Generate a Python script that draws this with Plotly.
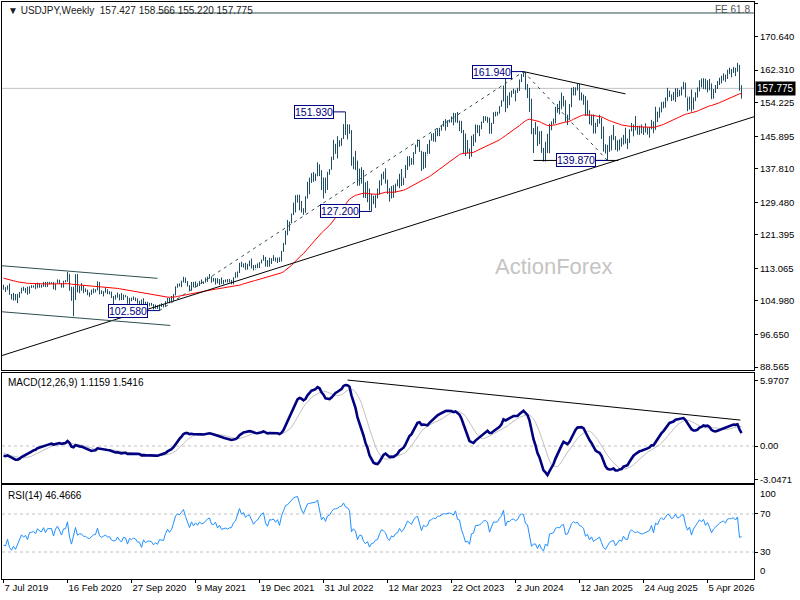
import pandas as pd
import plotly.graph_objects as go

# =========================
# DATA (weekly bars, week of 7 Jul 2019 .. week of 2 Aug 2026)
# =========================

WEEK_START = "2019-07-07"

# closes of the 52 weeks before the chart, only used to warm up the indicators
PRE_CLOSE = [
    112.4, 111.4, 111.0, 111.25, 110.9, 110.5, 111.2, 111.0, 111.0, 112.1,
    112.6, 113.7, 113.7, 112.2, 112.5, 111.9, 113.2, 113.8, 112.8, 112.95,
    113.5, 112.7, 113.4, 111.2, 110.3, 108.5, 108.5, 109.8, 109.5, 109.5,
    109.7, 110.5, 110.7, 111.9, 111.2, 111.5, 109.9, 110.9, 111.7, 112.0,
    111.9, 111.6, 111.1, 109.95, 110.1, 109.3, 108.3, 108.2, 108.6, 107.3,
    107.85, 108.45,
]

HIGH = [
    108.99, 108.4, 108.8, 109.3, 106.7, 106.98, 106.7, 106.7, 107.2, 108.25,
    108.5, 108.2, 108.5, 108.6, 108.9, 108.8, 109.3, 109.5, 109.3, 109.0,
    109.7, 109.7, 109.7, 109.7, 109.6, 109.7, 109.2, 110.3, 110.2, 109.4,
    110.0, 110.15, 112.2, 111.6, 108.5, 108.5, 111.6, 111.7, 108.7, 109.4,
    108.8, 108.1, 107.8, 107.1, 107.8, 108.1, 107.9, 109.85, 109.65, 107.6,
    107.4, 108.2, 107.9, 107.4, 107.3, 106.2, 106.5, 107.05, 106.6, 106.95,
    106.55, 106.4, 106.1, 105.7, 105.8, 106.1, 105.8, 105.6, 105.0, 105.35,
    105.65, 104.75, 104.75, 104.5, 104.5, 104.2, 104.05, 103.9, 104.1, 104.4,
    104.1, 104.9, 105.75, 105.7, 106.2, 106.7, 108.6, 109.25, 109.35, 110.0,
    110.97, 110.75, 109.9, 108.9, 109.7, 109.7, 109.8, 109.3, 109.9, 110.3,
    109.8, 110.8, 111.0, 111.65, 111.0, 110.7, 110.6, 110.6, 110.4, 110.8,
    110.2, 110.3, 110.4, 110.45, 110.2, 110.8, 112.1, 112.25, 114.45, 114.7,
    114.3, 114.45, 114.2, 115.0, 115.5, 113.9, 113.95, 114.3, 114.6, 115.2,
    116.35, 115.9, 115.1, 115.7, 115.6, 116.35, 115.8, 115.7, 115.8, 117.35,
    119.4, 122.45, 125.1, 124.7, 126.7, 129.4, 131.25, 131.35, 131.35, 129.8,
    128.0, 130.9, 134.55, 135.6, 136.7, 137.0, 136.6, 139.4, 138.9, 137.45,
    135.6, 135.6, 137.0, 137.7, 140.8, 144.99, 144.0, 145.9, 144.9, 145.45,
    148.85, 151.93, 148.85, 148.8, 147.4, 140.8, 142.25, 139.85, 137.85, 138.2,
    137.5, 134.45, 134.8, 132.9, 131.6, 131.1, 131.2, 132.9, 134.95, 136.5,
    137.1, 137.9, 135.1, 133.0, 133.5, 133.75, 134.1, 135.15, 136.55, 137.75,
    135.45, 138.75, 140.9, 140.95, 140.45, 141.9, 143.75, 145.05, 144.9, 142.25,
    142.0, 142.0, 143.9, 144.95, 146.55, 146.65, 147.35, 147.85, 147.95, 148.45,
    149.7, 150.15, 149.85, 150.0, 150.8, 151.7, 151.6, 151.9, 149.75, 149.7,
    147.45, 146.55, 144.95, 142.8, 146.0, 146.4, 148.8, 148.7, 148.6, 149.55,
    150.9, 150.85, 150.7, 150.5, 149.2, 151.85, 151.97, 151.95, 153.35, 154.8,
    158.45, 160.2, 155.95, 156.8, 157.2, 157.7, 157.25, 157.9, 159.95, 161.3,
    161.94, 161.8, 158.85, 157.85, 155.2, 147.9, 149.4, 148.3, 147.1, 147.2,
    143.0, 144.5, 146.5, 149.0, 149.55, 150.3, 153.2, 153.9, 154.7, 156.75,
    155.9, 154.75, 151.25, 153.9, 157.9, 158.1, 158.0, 158.9, 158.85, 156.75,
    156.25, 155.9, 154.8, 152.3, 151.2, 151.3, 149.2, 150.15, 151.2, 150.5,
    148.3, 143.9, 143.7, 145.9, 146.2, 148.65, 145.9, 144.9, 145.1, 145.5,
    146.2, 148.0, 145.3, 147.6, 149.2, 148.8, 150.9, 148.5, 148.5, 148.8,
    148.2, 149.1, 148.1, 148.2, 149.95, 149.5, 153.2, 152.0, 153.0, 154.4,
    154.5, 155.5, 157.9, 157.2, 156.2, 156.9, 157.8, 157.8, 157.4, 158.2,
    159.4, 159.2, 155.5, 155.7, 157.5, 155.5, 156.8, 158.0, 159.8, 160.2,
    160.3, 160.2, 159.8, 160.1, 159.0, 157.6, 158.6, 159.6, 160.4, 160.9,
    161.5, 161.2, 162.4, 162.9, 162.6, 163.1, 162.9, 164.1, 163.6, 158.566,
]

LOW = [
    107.8, 107.2, 107.8, 106.5, 105.3, 105.05, 105.1, 104.45, 105.75, 106.9,
    107.5, 106.95, 106.5, 106.8, 108.2, 108.3, 107.9, 108.25, 108.25, 108.25,
    108.5, 108.4, 108.45, 109.1, 109.2, 107.85, 107.65, 109.4, 109.2, 108.3,
    108.3, 109.6, 109.75, 107.5, 105.0, 101.2, 105.2, 107.1, 106.9, 107.5,
    106.9, 107.2, 106.4, 106.0, 106.5, 106.9, 107.1, 107.6, 106.6, 106.7,
    106.1, 107.0, 106.65, 106.6, 105.7, 104.2, 105.3, 105.8, 105.1, 105.2,
    105.2, 105.9, 104.3, 104.0, 104.9, 105.2, 104.9, 104.3, 104.0, 103.2,
    103.2, 103.65, 103.85, 103.65, 103.8, 102.86, 103.0, 103.0, 102.58, 103.5,
    103.35, 103.55, 104.5, 104.4, 104.9, 105.0, 106.35, 108.3, 108.6, 108.4,
    109.6, 109.4, 108.6, 107.5, 107.5, 108.35, 108.35, 108.55, 108.7, 109.2,
    109.2, 109.6, 109.7, 110.5, 109.5, 109.75, 109.05, 109.35, 108.9, 109.2,
    109.1, 109.6, 109.6, 109.6, 109.1, 109.1, 110.7, 110.8, 111.9, 113.4,
    113.25, 112.7, 112.75, 113.6, 113.05, 112.55, 113.1, 113.1, 113.15, 114.35,
    115.0, 113.5, 113.45, 113.5, 114.15, 114.9, 114.75, 114.4, 114.65, 114.85,
    117.2, 118.9, 121.3, 122.4, 124.3, 126.3, 126.95, 129.4, 127.5, 126.95,
    126.35, 126.9, 130.4, 131.5, 134.3, 134.55, 134.75, 135.95, 136.0, 132.5,
    130.4, 131.75, 132.55, 136.3, 137.6, 140.0, 141.5, 140.35, 143.3, 143.5,
    145.2, 146.2, 145.1, 146.55, 138.55, 137.7, 137.5, 133.6, 133.6, 134.1,
    130.6, 130.55, 129.5, 127.45, 127.2, 129.0, 128.1, 130.45, 131.5, 133.65,
    135.2, 134.1, 131.55, 129.65, 130.4, 130.6, 131.85, 133.45, 133.0, 133.5,
    133.75, 135.5, 137.5, 138.4, 138.75, 138.8, 141.5, 143.2, 142.05, 137.25,
    137.7, 138.05, 141.5, 141.5, 144.8, 144.55, 144.45, 145.9, 145.9, 147.3,
    148.3, 147.3, 148.2, 149.25, 149.3, 148.6, 149.35, 149.2, 147.15, 146.65,
    141.65, 140.95, 141.65, 140.25, 140.8, 143.4, 144.35, 146.65, 145.9, 147.6,
    149.2, 149.7, 149.2, 146.5, 146.5, 148.95, 150.8, 151.0, 151.55, 153.25,
    154.55, 151.85, 152.9, 153.6, 155.6, 156.4, 154.55, 156.65, 157.15, 159.35,
    160.65, 157.4, 155.35, 151.9, 146.4, 141.7, 146.3, 143.45, 143.9, 141.75,
    139.6, 139.58, 141.7, 141.65, 147.35, 148.85, 149.1, 151.7, 151.3, 152.7,
    153.3, 149.45, 148.65, 150.0, 153.1, 156.0, 156.0, 157.3, 154.8, 154.75,
    153.7, 150.95, 150.95, 148.85, 148.55, 146.55, 146.55, 148.2, 149.0, 145.2,
    142.05, 141.6, 139.87, 142.0, 142.35, 144.9, 142.5, 142.1, 142.4, 143.3,
    143.8, 144.05, 142.7, 144.2, 147.1, 145.85, 147.4, 146.3, 146.2, 146.6,
    146.2, 146.8, 146.3, 145.5, 147.6, 146.6, 147.5, 149.4, 150.5, 151.8,
    152.8, 153.0, 154.7, 155.6, 154.6, 154.8, 154.4, 155.6, 155.8, 156.0,
    157.5, 155.5, 152.1, 152.5, 152.0, 152.5, 154.6, 155.5, 157.0, 158.0,
    157.6, 157.5, 156.8, 157.3, 155.1, 155.2, 156.6, 157.6, 158.6, 159.0,
    159.7, 159.4, 160.1, 161.3, 160.5, 161.6, 160.8, 161.9, 157.2, 155.22,
]

CLOSE = [
    107.9, 107.7, 108.7, 106.6, 105.7, 106.35, 105.4, 106.3, 106.9, 108.1,
    107.55, 107.9, 106.9, 108.4, 108.45, 108.65, 108.2, 109.25, 108.8, 108.65,
    109.5, 108.6, 109.4, 109.45, 109.45, 108.1, 109.45, 110.15, 109.3, 108.4,
    109.75, 109.8, 111.6, 107.9, 105.4, 107.9, 110.9, 107.9, 108.5, 108.4,
    107.5, 107.5, 106.9, 106.7, 107.1, 107.7, 107.8, 109.6, 107.4, 106.9,
    107.2, 107.5, 106.9, 107.0, 106.1, 105.85, 105.9, 106.6, 105.8, 105.4,
    106.25, 106.1, 104.55, 105.6, 105.3, 105.6, 105.4, 104.7, 104.65, 103.35,
    104.6, 103.85, 104.1, 104.15, 104.0, 103.3, 103.6, 103.25, 103.9, 103.85,
    103.75, 104.7, 105.4, 104.95, 105.4, 106.55, 108.35, 109.0, 108.9, 109.65,
    110.6, 109.65, 108.8, 107.9, 109.3, 108.6, 109.4, 108.95, 109.85, 109.5,
    109.65, 110.2, 110.75, 111.0, 110.1, 110.05, 110.55, 109.7, 110.25, 109.6,
    109.8, 109.85, 109.7, 109.9, 109.95, 110.75, 111.05, 112.2, 114.2, 113.5,
    114.0, 113.4, 113.9, 113.95, 113.4, 112.8, 113.4, 113.7, 114.4, 115.1,
    115.5, 114.2, 113.7, 115.25, 115.2, 115.45, 115.0, 115.6, 114.8, 117.3,
    119.2, 122.05, 122.5, 124.35, 126.45, 128.5, 129.8, 130.55, 129.25, 127.85,
    127.1, 130.9, 134.4, 135.0, 135.2, 135.2, 136.1, 138.55, 136.1, 133.25,
    134.95, 133.5, 136.95, 137.65, 140.2, 142.5, 142.9, 143.35, 144.7, 145.25,
    148.75, 147.65, 147.45, 146.6, 138.75, 140.4, 139.2, 134.3, 136.6, 136.65,
    132.85, 131.1, 132.1, 127.9, 129.6, 129.85, 131.2, 131.4, 134.15, 136.45,
    135.85, 134.9, 131.8, 130.75, 132.85, 132.2, 133.75, 134.15, 136.3, 134.85,
    135.7, 137.95, 140.6, 140.0, 139.4, 141.8, 143.7, 144.3, 142.1, 138.8,
    141.75, 141.2, 141.8, 144.95, 145.4, 146.4, 146.2, 147.8, 147.85, 148.35,
    149.35, 149.3, 149.55, 149.85, 149.65, 149.4, 151.5, 149.6, 149.45, 146.8,
    144.95, 142.15, 142.45, 141.05, 144.65, 144.9, 148.15, 148.15, 148.4, 149.3,
    150.2, 150.5, 150.1, 147.05, 149.05, 151.45, 151.35, 151.6, 153.3, 154.6,
    158.3, 152.95, 155.75, 155.65, 157.0, 157.3, 156.75, 157.35, 159.8, 160.9,
    160.75, 157.9, 157.5, 153.75, 146.55, 147.6, 147.6, 144.35, 146.15, 142.3,
    140.85, 143.85, 142.2, 148.7, 149.15, 149.5, 152.3, 152.95, 152.6, 154.3,
    154.75, 149.75, 150.0, 153.6, 156.4, 157.85, 157.3, 157.75, 156.3, 156.0,
    155.2, 151.4, 152.3, 149.3, 150.65, 148.0, 148.65, 149.3, 149.85, 146.9,
    143.55, 142.2, 143.65, 144.9, 145.4, 145.65, 142.6, 143.9, 144.85, 144.1,
    146.1, 144.65, 144.5, 147.4, 148.5, 147.7, 147.4, 147.7, 147.2, 146.9,
    147.05, 147.4, 147.65, 147.95, 149.5, 147.5, 151.2, 150.6, 152.9, 154.0,
    153.4, 154.6, 156.4, 156.2, 155.3, 155.8, 157.5, 156.6, 156.9, 157.9,
    158.1, 155.8, 154.2, 155.3, 152.7, 155.0, 156.3, 157.6, 159.2, 158.6,
    159.8, 158.0, 159.3, 157.8, 155.8, 157.3, 158.2, 159.3, 159.9, 160.6,
    160.9, 160.4, 162.1, 162.3, 162.3, 162.7, 162.2, 163.4, 157.427, 157.775,
]

# swing labels: (bar date, price, text)
SWING_LABELS = [
    ("2021-01-03", 102.58, "102.580"),
    ("2022-10-16", 151.93, "151.930"),
    ("2023-01-15", 127.20, "127.200"),
    ("2024-06-30", 161.94, "161.940"),
    ("2025-04-20", 139.87, "139.870"),
]

# drawn objects on the price chart: ([date0, date1], [price0, price1])
SUPPORT_LINE = (["2019-07-01", "2026-09-16 12:00"], [91.40, 150.76])
CHANNEL_TOP = (["2019-07-01", "2020-12-27"], [113.72, 110.59])
CHANNEL_BOTTOM = (["2019-07-01", "2021-02-10"], [102.29, 98.89])
RISE_DASH = (["2021-01-03", "2024-06-30"], [102.58, 161.94])
FALL_DASH = (["2024-06-30", "2025-04-20"], [161.94, 139.87])
FALL_LINE = (["2024-06-30", "2025-06-22"], [161.94, 156.40])
LOW_LINE = (["2024-08-04", "2025-05-28"], [139.87, 139.87])
FE_LINE = (["2020-12-27", "2026-09-16 12:00"], [176.49, 176.49])
MACD_LINE = (["2022-10-23", "2026-07-29"], [6.00, 2.36])

LAST_PRICE = 157.775

PRICE_TICKS = [178.725, 170.640, 162.310, 154.225, 145.895, 137.810,
               129.480, 121.395, 113.065, 104.980, 96.650, 88.565]
MACD_TICKS = [5.9707, 0.0, -3.0471]
MACD_TICK_TEXT = ["5.9707", "0.00", "-3.0471"]
RSI_TICKS = [70, 30]

DATE_TICKS = ["2019-07-07", "2020-02-16", "2020-09-27", "2021-05-09",
              "2021-12-19", "2022-07-31", "2023-03-12", "2023-10-22",
              "2024-06-02", "2025-01-12", "2025-08-24", "2026-04-05"]
DATE_TEXT = ["7 Jul 2019", "16 Feb 2020", "27 Sep 2020", "9 May 2021",
             "19 Dec 2021", "31 Jul 2022", "12 Mar 2023", "22 Oct 2023",
             "2 Jun 2024", "12 Jan 2025", "24 Aug 2025", "5 Apr 2026"]

X_RANGE = ["2019-07-01 18:00", "2026-09-14 18:00"]

# =========================
# INDICATORS
# =========================

dates = pd.date_range(WEEK_START, periods=len(CLOSE), freq="7D")
pre_dates = pd.date_range(end=dates[0] - pd.Timedelta(days=7),
                          periods=len(PRE_CLOSE), freq="7D")
closes = pd.Series(PRE_CLOSE + CLOSE, index=pre_dates.append(dates))
opens = [PRE_CLOSE[-1]] + CLOSE[:-1]

ema55 = closes.ewm(span=55, adjust=False).mean()
macd = closes.ewm(span=12, adjust=False).mean() - closes.ewm(span=26, adjust=False).mean()
signal = macd.rolling(9).mean()

delta = closes.diff()
gain = delta.clip(lower=0).ewm(alpha=1 / 14, adjust=False).mean()
loss = (-delta.clip(upper=0)).ewm(alpha=1 / 14, adjust=False).mean()
rsi = 100 - 100 / (1 + gain / loss)

ema55, macd, signal, rsi = (s.loc[dates] for s in (ema55, macd, signal, rsi))

# =========================
# FIGURE
# =========================

BAR = "#1f4d63"
SLATE = "#2f4f4f"
NAVY = "#000080"
FONT = "Liberation Sans"

fig = go.Figure()

fig.add_trace(go.Ohlc(
    x=dates, open=opens, high=HIGH, low=LOW, close=CLOSE,
    increasing=dict(line=dict(color=BAR, width=1)),
    decreasing=dict(line=dict(color=BAR, width=1)),
    tickwidth=0.25, hoverinfo="skip", showlegend=False,
))

fig.add_trace(go.Scatter(x=dates, y=ema55, mode="lines",
                         line=dict(color="#ff0000", width=1),
                         hoverinfo="skip", showlegend=False))


def add_line(obj, color, dash="solid", xa="x", ya="y", width=1):
    fig.add_trace(go.Scatter(
        x=obj[0], y=obj[1], mode="lines", xaxis=xa, yaxis=ya,
        line=dict(color=color, width=width, dash=dash),
        hoverinfo="skip", showlegend=False,
    ))


add_line(SUPPORT_LINE, "black")
add_line(CHANNEL_TOP, SLATE)
add_line(CHANNEL_BOTTOM, SLATE)
add_line(RISE_DASH, SLATE, dash="3px,4px")
add_line(FALL_DASH, SLATE, dash="3px,4px")
add_line(FALL_LINE, "black")
add_line(LOW_LINE, "black")
add_line(FE_LINE, SLATE)

# MACD panel
fig.add_trace(go.Scatter(x=dates, y=signal, mode="lines", xaxis="x2", yaxis="y2",
                         line=dict(color="#c0c0c0", width=1),
                         hoverinfo="skip", showlegend=False))
fig.add_trace(go.Scatter(x=dates, y=macd, mode="lines", xaxis="x2", yaxis="y2",
                         line=dict(color=NAVY, width=2.6),
                         hoverinfo="skip", showlegend=False))
add_line(MACD_LINE, "black", xa="x2", ya="y2")

# RSI panel
fig.add_trace(go.Scatter(x=dates, y=rsi, mode="lines", xaxis="x3", yaxis="y3",
                         line=dict(color="#1e90ff", width=1),
                         hoverinfo="skip", showlegend=False))

shapes = [
    dict(type="line", xref="x domain", yref="y", x0=0, x1=1,
         y0=LAST_PRICE, y1=LAST_PRICE, line=dict(color="#c0c0c0", width=1), layer="below"),
    dict(type="line", xref="x2 domain", yref="y2", x0=0, x1=1, y0=0, y1=0,
         line=dict(color="#c0c0c0", width=1, dash="3px,3px"), layer="below"),
]
for lvl in RSI_TICKS:
    shapes.append(dict(type="line", xref="x3 domain", yref="y3", x0=0, x1=1,
                       y0=lvl, y1=lvl, layer="below",
                       line=dict(color="#c0c0c0", width=1, dash="3px,3px")))

annotations = []
for d, price, txt in SWING_LABELS:
    annotations.append(dict(
        x=d, y=price, xref="x", yref="y", text=txt,
        showarrow=True, arrowhead=0, arrowwidth=1, arrowcolor=NAVY,
        ax=-32, ay=0, standoff=0,
        font=dict(family=FONT, size=10.5, color=NAVY),
        bgcolor="white", bordercolor=NAVY, borderwidth=1, borderpad=0,
    ))

annotations += [
    dict(xref="paper", yref="paper", x=0, y=1, xanchor="left", yanchor="top",
         xshift=4, yshift=-1, showarrow=False,
         text="▼ USDJPY,Weekly  157.427 158.566 155.220 157.775",
         font=dict(family=FONT, size=10, color="#202020")),
    dict(xref="paper", yref="paper", x=1, y=1, xanchor="right", yanchor="top",
         xshift=-2, yshift=0, showarrow=False, text="FE 61.8",
         font=dict(family=FONT, size=10, color="#505050")),
    dict(xref="paper", yref="paper", x=0.733, y=0.541, xanchor="center",
         yanchor="middle", showarrow=False,
         text="ActionForex", font=dict(family=FONT, size=22, color="#c4c4c4")),
    dict(xref="paper", yref="y", x=1, y=LAST_PRICE, xanchor="left", showarrow=False,
         xshift=1, text=f"{LAST_PRICE:.3f}", bgcolor="black", borderpad=1,
         font=dict(family=FONT, size=10, color="white")),
    dict(xref="paper", yref="y2 domain", x=0, y=1, xanchor="left", yanchor="top",
         xshift=4, yshift=-2, showarrow=False, text="MACD(12,26,9) 1.1159 1.5416",
         font=dict(family=FONT, size=10, color="black")),
    dict(xref="paper", yref="y3 domain", x=0, y=1, xanchor="left", yanchor="top",
         xshift=4, yshift=-3, showarrow=False, text="RSI(14) 46.4666",
         font=dict(family=FONT, size=10, color="black")),
    dict(xref="paper", yref="y3 domain", x=1, y=1, xanchor="left", yanchor="top",
         xshift=4, yshift=-1, showarrow=False, text="100",
         font=dict(family=FONT, size=9.5, color="black")),
    dict(xref="paper", yref="y3 domain", x=1, y=0, xanchor="left", yanchor="bottom",
         xshift=4, yshift=1, showarrow=False, text="0",
         font=dict(family=FONT, size=9.5, color="black")),
]

frame = dict(showline=True, mirror=True, linecolor="black", linewidth=1,
             showgrid=False, zeroline=False)
yfmt = dict(side="right", ticks="outside", ticklen=3, tickcolor="black",
            tickfont=dict(family=FONT, size=9.5, color="black"), fixedrange=True)

fig.update_layout(
    width=800, height=600,
    margin=dict(l=2, r=46, t=2, b=21),
    plot_bgcolor="white", paper_bgcolor="white",
    font=dict(family=FONT, color="black"),
    showlegend=False,
    xaxis=dict(domain=[0, 1], anchor="y", type="date", range=X_RANGE,
               showticklabels=False, rangeslider=dict(visible=False), **frame),
    xaxis2=dict(domain=[0, 1], anchor="y2", matches="x", showticklabels=False, **frame),
    xaxis3=dict(domain=[0, 1], anchor="y3", matches="x",
                tickvals=DATE_TICKS, ticktext=DATE_TEXT,
                ticks="outside", ticklen=3, tickcolor="black",
                ticklabelposition="outside right",
                tickfont=dict(family=FONT, size=9.5, color="black"), **frame),
    yaxis=dict(domain=[0.3622, 1], range=[87.82, 179.22],
               tickvals=PRICE_TICKS, ticktext=[f"{v:.3f}" for v in PRICE_TICKS],
               **yfmt, **frame),
    yaxis2=dict(domain=[0.1664, 0.3570], range=[-3.36, 6.64],
                tickvals=MACD_TICKS, ticktext=MACD_TICK_TEXT, **yfmt, **frame),
    yaxis3=dict(domain=[0, 0.1629], range=[1.6, 100.5],
                tickvals=RSI_TICKS, ticktext=[str(v) for v in RSI_TICKS],
                **yfmt, **frame),
    shapes=shapes,
    annotations=annotations,
)

# the page body has a default 8px margin; remove it so the 800x600 figure fills the window
fig.write_html("out.html",
               config={"displayModeBar": False},
               post_script="document.body.style.margin='0';document.body.style.overflow='hidden';")
